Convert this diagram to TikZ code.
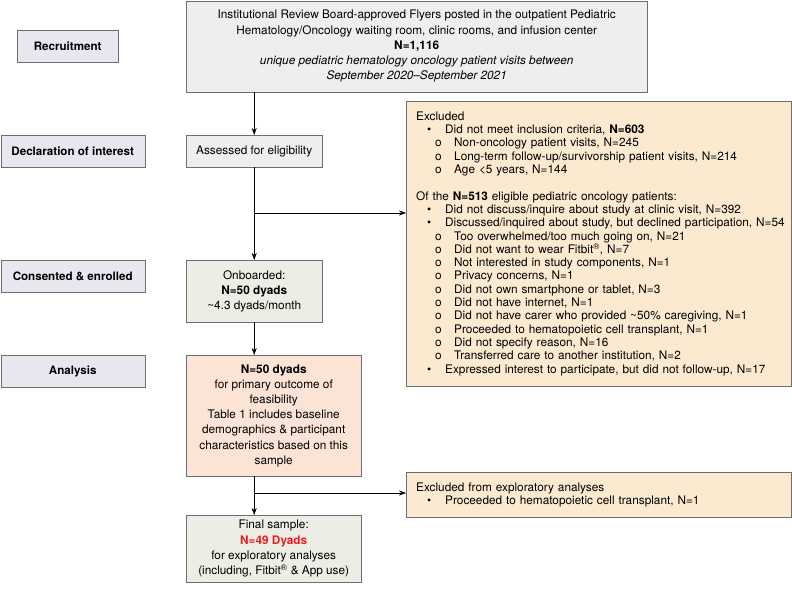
\documentclass[tikz,border=0pt]{standalone}
\usepackage{fontspec}
\setmainfont{TeX Gyre Heros}
\usetikzlibrary{arrows.meta, positioning}
\definecolor{boxline}{RGB}{110,110,110}
\definecolor{stagefill}{RGB}{231,231,240}
\definecolor{greyfill}{RGB}{238,238,238}
\definecolor{sagefill}{RGB}{237,237,230}
\definecolor{peachfill}{RGB}{251,228,214}
\definecolor{notefill}{RGB}{251,234,208}
\definecolor{nred}{RGB}{235,30,35}
\newcommand{\bul}[1]{\mbox{\hspace*{11pt}\makebox[18pt][l]{\textbullet}#1}}
\newcommand{\subb}[1]{\mbox{\hspace*{19pt}\makebox[19pt][l]{o}#1}}

\begin{document}
\begin{tikzpicture}[
    x=1pt, y=-1pt, >={Stealth[length=7pt, width=5pt]},
    stagebox/.style={draw=boxline, fill=stagefill, font=\fontsize{11.6}{13}\selectfont\bfseries,
      anchor=north west, minimum height=32pt, inner sep=0pt},
    flowbox/.style={draw=boxline, anchor=north west, align=center, inner sep=0pt,
      font=\fontsize{11.8}{15.2}\selectfont},
    notebox/.style={draw=boxline, fill=notefill, anchor=north west, align=left,
      inner xsep=10pt, inner ysep=0pt, text width=365pt,
      font=\fontsize{11.8}{13.3}\selectfont}
  ]
  \useasboundingbox (0,0) rectangle (792,592);

  % stages on the left
  \node[stagebox, minimum width=101pt] (recruit) at (17,30) {Recruitment};
  \node[stagebox, minimum width=144pt] (interest) at (0.5,135) {Declaration of interest};
  \node[stagebox, minimum width=144pt] (consent) at (0.5,260) {Consented \& enrolled};
  \node[stagebox, minimum width=144pt] (analysis) at (0.5,355) {Analysis};

  % main flow
  \node[flowbox, fill=greyfill, minimum width=461pt, minimum height=91pt] (flyers) at (186,0.5)
    {Institutional Review Board-approved Flyers posted in the outpatient Pediatric\\
     Hematology/Oncology waiting room, clinic rooms, and infusion center\\
     \textbf{N=1,116}\\
     \textit{unique pediatric hematology oncology patient visits between}\\
     \textit{September 2020--September 2021}};
  \node[flowbox, fill=greyfill, minimum width=136pt, minimum height=32pt] (assess) at (186,135)
    {Assessed for eligibility};
  \node[flowbox, fill=sagefill, minimum width=136pt, minimum height=62pt] (onboard) at (186,260)
    {Onboarded:\\ \textbf{N=50 dyads}\\ \textasciitilde4.3 dyads/month};
  \node[flowbox, fill=peachfill, minimum width=175pt, minimum height=121pt] (primary) at (186,355)
    {\textbf{N=50 dyads}\\ for primary outcome of\\ feasibility\\ Table 1 includes baseline\\
     demographics \& participant\\ characteristics based on this\\ sample};
  \node[flowbox, fill=sagefill, minimum width=175pt, minimum height=67pt] (final) at (186,515)
    {Final sample:\\ \textcolor{nred}{\textbf{N=49 Dyads}}\\ for exploratory analyses\\
     (including, Fitbit\textsuperscript{\textregistered} \& App use)};

  % exclusions
  \node[notebox, minimum height=285pt] (excl) at (406,101)
    {Excluded\\
     \bul{Did not meet inclusion criteria, \textbf{N=603}}\\
     \subb{Non-oncology patient visits, N=245}\\
     \subb{Long-term follow-up/survivorship patient visits, N=214}\\
     \subb{Age <5 years, N=144}\\[13.3pt]
     Of the \textbf{N=513} eligible pediatric oncology patients:\\
     \bul{Did not discuss/inquire about study at clinic visit, N=392}\\
     \bul{Discussed/inquired about study, but declined participation, N=54}\\
     \subb{Too overwhelmed/too much going on, N=21}\\
     \subb{Did not want to wear Fitbit\textsuperscript{\textregistered}, N=7}\\
     \subb{Not interested in study components, N=1}\\
     \subb{Privacy concerns, N=1}\\
     \subb{Did not own smartphone or tablet, N=3}\\
     \subb{Did not have internet, N=1}\\
     \subb{Did not have carer who provided \textasciitilde50\% caregiving, N=1}\\
     \subb{Proceeded to hematopoietic cell transplant, N=1}\\
     \subb{Did not specify reason, N=16}\\
     \subb{Transferred care to another institution, N=2}\\
     \bul{Expressed interest to participate, but did not follow-up, N=17}};
  \node[notebox, minimum height=45pt] (excltwo) at (406,472)
    {Excluded from exploratory analyses\\
     \bul{Proceeded to hematopoietic cell transplant, N=1}};

  % connectors
  \coordinate (split1) at (254,213);
  \coordinate (split2) at (254,493);
  \draw[->] (assess.north |- flyers.south) -- (assess.north);
  \draw[->] (assess) -- (onboard);
  \draw[->] (split1) -- (split1 -| excl.west);
  \draw[->] (onboard.south) -- (onboard.south |- primary.north);
  \draw[->] (onboard.south |- primary.south) -- (onboard.south |- final.north);
  \draw[->] (split2) -- (split2 -| excltwo.west);
\end{tikzpicture}
\end{document}
